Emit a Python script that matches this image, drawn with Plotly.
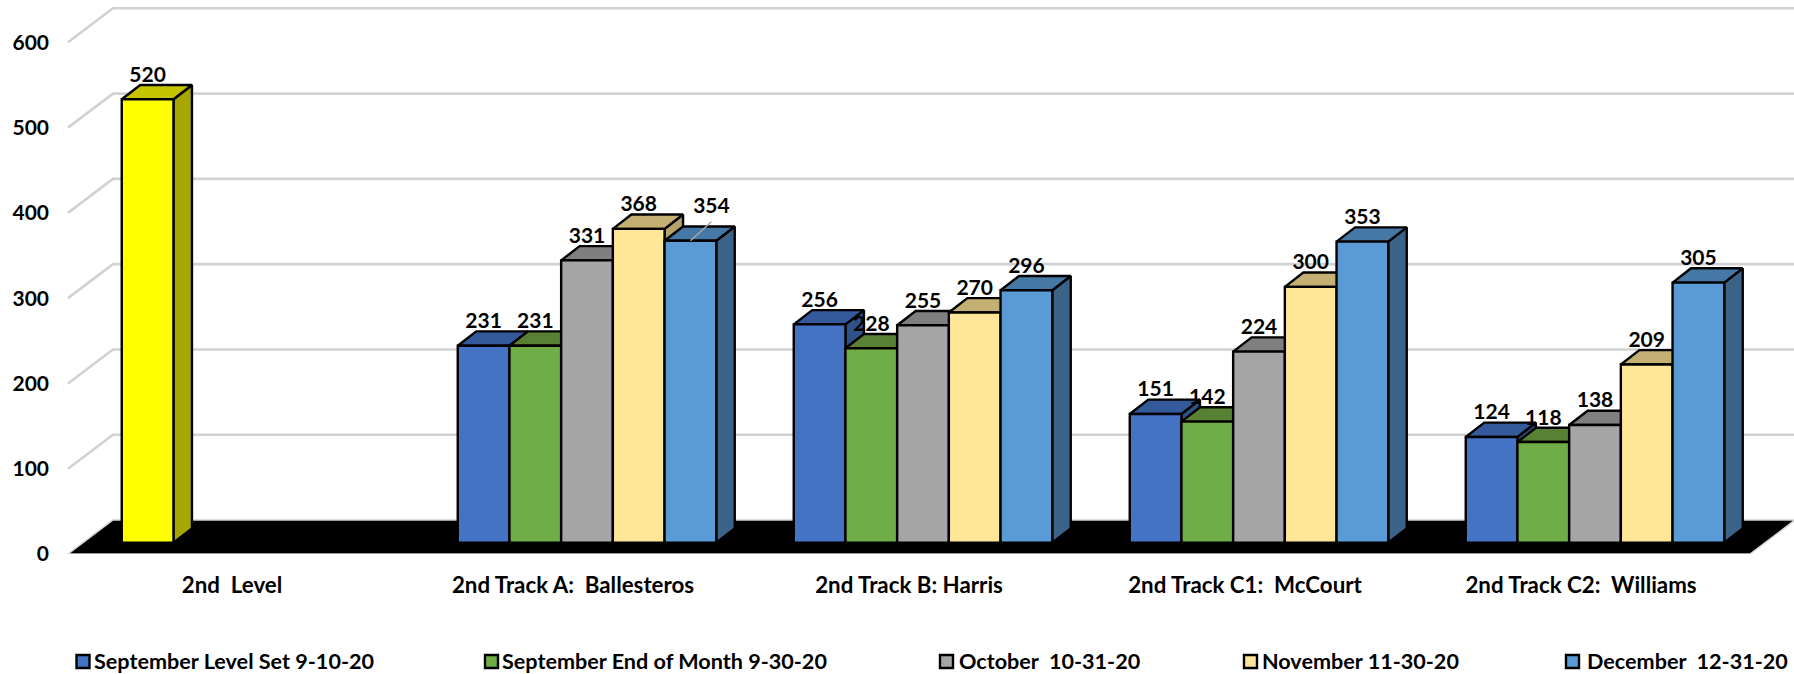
import plotly.graph_objects as go

# ---------- data ----------
categories = ["2nd  Level", "2nd Track A:  Ballesteros", "2nd Track B: Harris",
              "2nd Track C1:  McCourt", "2nd Track C2:  Williams"]
series_names = ["September Level Set 9-10-20", "September End of Month 9-30-20",
                "October  10-31-20", "November 11-30-20", "December  12-31-20"]
sep_level_set = [520, 231, 256, 151, 124]
sep_end_month = [None, 231, 228, 142, 118]
october = [None, 331, 255, 224, 138]
november = [None, 368, 270, 300, 209]
december = [None, 354, 296, 353, 305]
y_ticks = [0, 100, 200, 300, 400, 500, 600]

# ---------- geometry (pixels of the 1794x674 canvas) ----------
W, H = 1794, 674
LEFT = 50
BOTTOM_PX = 554          # y pixel of value 0 on the front edge
PX_PER_VAL = 0.8528
GROUP_PX = 336
GROUP0_PX = 251
BAR_PX = 51.7
xu = 1 / GROUP_PX        # x-units per pixel
yu = 1 / PX_PER_VAL      # y-units per pixel
BAR_W = BAR_PX * xu
BASE = 11.3 * yu         # bar base above the front floor edge
BAR_DX, BAR_DY = 18.5 * xu, 14.3 * yu
WALL_DX, WALL_DY = 45 * xu, 34 * yu
X0 = (68 - GROUP0_PX) * xu     # front-left corner of chart box
X1 = (1750 - GROUP0_PX) * xu   # front-right corner of the floor
x_range = [(LEFT - GROUP0_PX) * xu, (W - GROUP0_PX) * xu]
y_range = [0, BOTTOM_PX * yu]
LABEL_GAP = 22.8 * yu

FONT = "Lato"
NUM_SIZE = 21
TEXT_SIZE = 22.3
LEGEND_SIZE = 21.6
LINE_W = 2.4
colors = [
    ("#4472C4", "#345A9C", "#2F5289"),
    ("#70AD47", "#588136", "#4D7530"),
    ("#A5A5A5", "#7F7F7F", "#6E6E6E"),
    ("#FFE699", "#C4B073", "#B3A26C"),
    ("#5B9BD5", "#4678A5", "#3B6387"),
]
level_colors = ("#FFFF00", "#C4C400", "#A6A600")
all_series = [sep_level_set, sep_end_month, october, november, december]
label_x_px = [232, 573, 909, 1245, 1581]

fig = go.Figure()


def poly(fig, xs, ys, fill, name=None):
    fig.add_trace(go.Scatter(
        x=xs, y=ys, mode="lines", fill="toself", fillcolor=fill, name=name,
        line=dict(color="#000000", width=LINE_W), showlegend=False, hoverinfo="skip"))


# ---------- gridlines, drawn on the two walls ----------
for v in y_ticks[1:]:
    fig.add_trace(go.Scatter(
        x=[X0, X0 + WALL_DX, x_range[1]], y=[v, v + WALL_DY, v + WALL_DY], mode="lines",
        line=dict(color="#D2D2D2", width=2.6), showlegend=False, hoverinfo="skip"))

# ---------- floor ----------
fig.add_trace(go.Scatter(
    x=[X0, X1, X1 + WALL_DX, X0 + WALL_DX, X0], y=[0, 0, WALL_DY, WALL_DY, 0],
    mode="lines", fill="toself", fillcolor="#000000",
    line=dict(color="#D2D2D2", width=1.5), showlegend=False, hoverinfo="skip"))


def face_paths(groups, slots, vals):
    side_x, side_y, top_x, top_y, fr_x, fr_y = [], [], [], [], [], []
    for g, s, v in zip(groups, slots, vals):
        l = g + (s - 2.5) * BAR_W
        r = l + BAR_W
        b, t = BASE, BASE + v
        fr_x += [l, r, r, l, l, None]
        fr_y += [b, b, t, t, b, None]
        top_x += [l, r, r + BAR_DX, l + BAR_DX, l, None]
        top_y += [t, t, t + BAR_DY, t + BAR_DY, t, None]
        side_x += [r, r + BAR_DX, r + BAR_DX, r, r, None]
        side_y += [b, b + BAR_DY, t + BAR_DY, t, b, None]
    return (side_x, side_y), (top_x, top_y), (fr_x, fr_y)


def draw(groups, slots, vals, cols, name):
    side, top, front = face_paths(groups, slots, vals)
    poly(fig, side[0], side[1], cols[2])
    poly(fig, top[0], top[1], cols[1])
    poly(fig, front[0], front[1], cols[0], name=name)


# ---------- bars, painted left to right ----------
for s, vals in enumerate(all_series):
    idx = [i for i, v in enumerate(vals) if v is not None and i > 0]
    draw(idx, [s] * len(idx), [vals[i] for i in idx], colors[s], series_names[s])
draw([0], [0], [sep_level_set[0]], level_colors, categories[0])

# ---------- data labels ----------
lab_x, lab_y, lab_t = [], [], []
for s, vals in enumerate(all_series):
    for g, v in enumerate(vals):
        if v is None:
            continue
        x = g + (s - 2.0) * BAR_W
        y = BASE + v + LABEL_GAP
        if g == 1 and s == 4:   # moved label with its leader line
            lx, ly = x + 21 * xu, y + 10 * yu
            fig.add_trace(go.Scatter(
                x=[x, lx], y=[BASE + v, BASE + v + 19 * yu], mode="lines",
                line=dict(color="#A6A6A6", width=1.5), showlegend=False, hoverinfo="skip"))
            x, y = lx, ly
        lab_x.append(x); lab_y.append(y); lab_t.append(str(v))
fig.add_trace(go.Scatter(
    x=lab_x, y=lab_y, text=lab_t, mode="text", textposition="middle center",
    textfont=dict(family=FONT, size=NUM_SIZE, color="#000000", weight=700),
    showlegend=False, hoverinfo="skip"))


# ---------- legend, placed entry by entry ----------
def px_x(p):
    return (p - LEFT) / (W - LEFT)


def px_y(p):
    return 1 - p / BOTTOM_PX


swatch_px = [75.5, 484, 939, 1243, 1565]
text_px = [94.5, 503, 960, 1263, 1588]
shapes, annos = [], []
for p, tp, n, c in zip(swatch_px, text_px, series_names, colors):
    shapes.append(dict(type="rect", xref="paper", yref="paper",
                       x0=px_x(p + 1), x1=px_x(p + 14), y0=px_y(668), y1=px_y(655),
                       fillcolor=c[0], line=dict(color="#000000", width=2.4)))
    annos.append(dict(xref="paper", yref="paper", x=px_x(tp), y=px_y(661),
                      text=n, showarrow=False, xanchor="left", yanchor="middle",
                      xshift=-3,
                      font=dict(family=FONT, size=LEGEND_SIZE, color="#000000", weight=700)))

fig.update_layout(
    width=W, height=H, autosize=False,
    margin=dict(l=LEFT, r=0, t=0, b=H - BOTTOM_PX, pad=0),
    paper_bgcolor="#FFFFFF", plot_bgcolor="#FFFFFF", showlegend=False,
    shapes=shapes, annotations=annos,
    xaxis=dict(range=x_range, showgrid=False, zeroline=False, showline=False,
               tickmode="array", tickvals=[(p - GROUP0_PX) * xu for p in label_x_px],
               ticktext=categories, ticks="outside", ticklen=11,
               tickcolor="rgba(0,0,0,0)",
               tickfont=dict(family=FONT, size=TEXT_SIZE, color="#000000", weight=700)),
    yaxis=dict(range=y_range, showgrid=False, zeroline=False, showline=False,
               tickmode="array", tickvals=y_ticks, ticks="",
               tickfont=dict(family=FONT, size=NUM_SIZE, color="#000000", weight=700)),
)
fig.write_html("out.html", config={"displayModeBar": False}, post_script=(
    "document.body.style.margin='0';document.body.style.overflow='hidden';"))
